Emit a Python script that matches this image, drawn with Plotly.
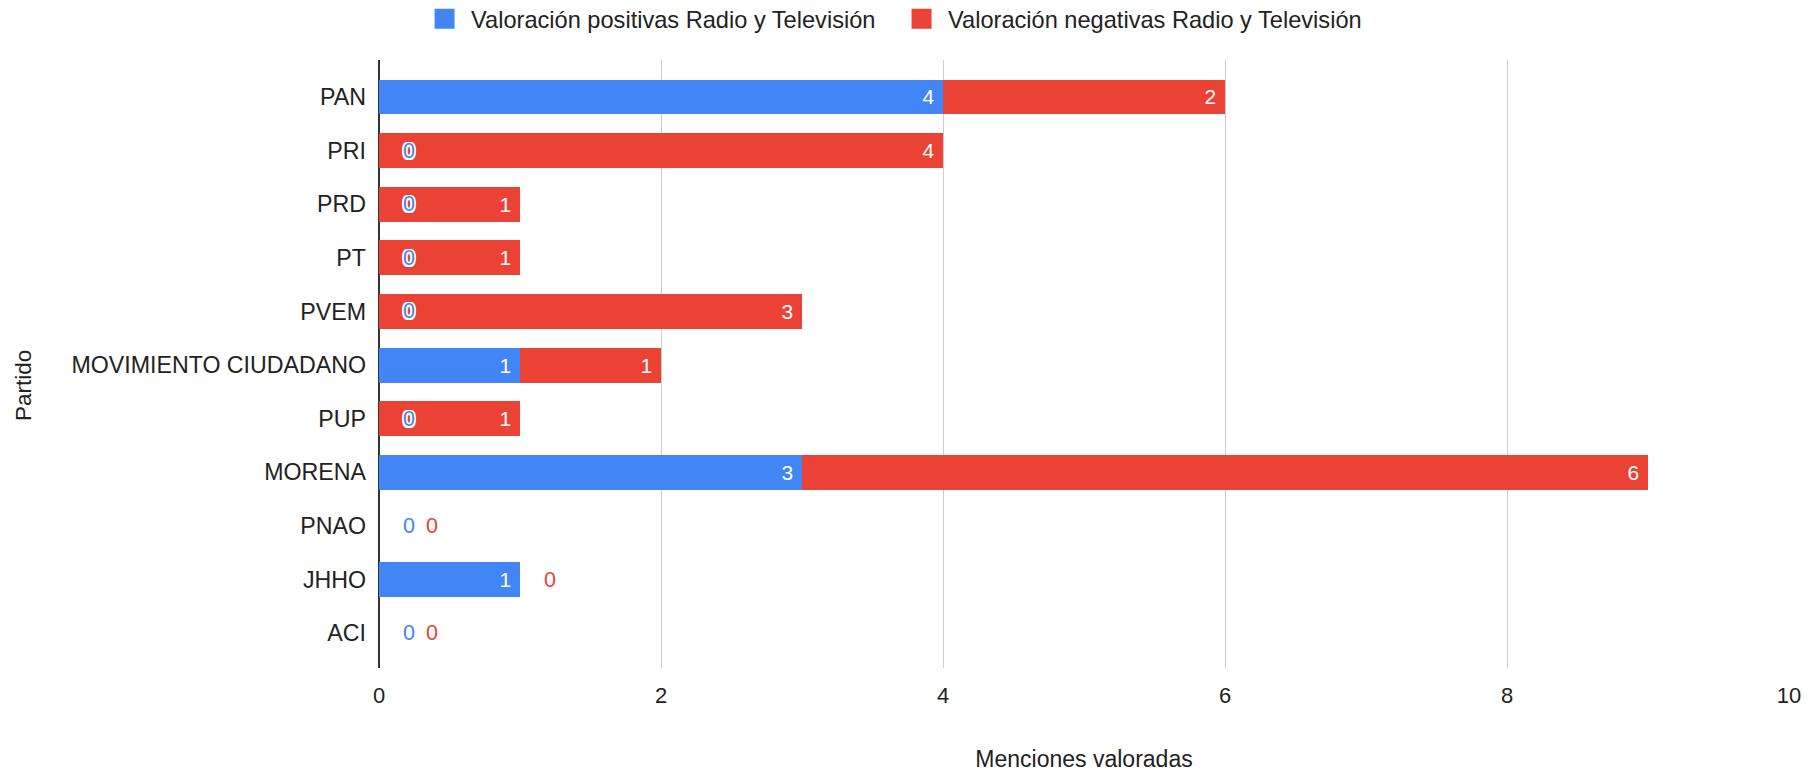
import plotly.graph_objects as go

partidos = ["PAN", "PRI", "PRD", "PT", "PVEM", "MOVIMIENTO CIUDADANO", "PUP",
            "MORENA", "PNAO", "JHHO", "ACI"]
positivas = [4, 0, 0, 0, 0, 1, 0, 3, 0, 1, 0]
negativas = [2, 4, 1, 1, 3, 1, 1, 6, 0, 0, 0]
x_ticks = [0, 2, 4, 6, 8, 10]

serie_pos = "Valoración positivas Radio y Televisión"
serie_neg = "Valoración negativas Radio y Televisión"
AZUL = "#4285F4"
ROJO = "#EA4335"
FONT = "Arial, Liberation Sans, sans-serif"
NBSP = "\u00a0"

# page body has an 8px margin; figure coordinates are offset by it
L, R, T, B = 371, 39, 52, 111
PLOT_W = 1820 - L - R
PLOT_H = 771 - T - B


def etiquetas(vals):
    return [f"{v}{NBSP}" if v else "" for v in vals]


fig = go.Figure()
for nombre, vals, color, radio in [(serie_pos, positivas, AZUL, 0), (serie_neg, negativas, ROJO, 3)]:
    fig.add_trace(go.Bar(
        y=partidos, x=vals, name=nombre, orientation="h", showlegend=False,
        marker=dict(color=color, line=dict(width=0), cornerradius=radio),
        text=etiquetas(vals), textposition="inside", insidetextanchor="end",
        textangle=0, constraintext="none", hoverinfo="x+y",
        insidetextfont=dict(color="white", size=21, family=FONT),
    ))
# legend entries (square swatches)
for nombre, color in [(serie_pos, AZUL), (serie_neg, ROJO)]:
    fig.add_trace(go.Scatter(
        x=[None], y=[None], name=nombre, mode="markers",
        marker=dict(symbol="square", size=23, color=color,
                    line=dict(color=color, width=4)),
        showlegend=True,
    ))

halo = ("1.5px 1.5px 0 white, -1.5px -1.5px 0 white, 1.5px -1.5px 0 white, "
        "-1.5px 1.5px 0 white, 0 1.5px 0 white, 0 -1.5px 0 white, "
        "1.5px 0 0 white, -1.5px 0 0 white")
annotations = []
for cat, p, n in zip(partidos, positivas, negativas):
    shift = 29.5
    if p == 0:
        annotations.append(dict(x=0, y=cat, xref="x", yref="y", text="0",
                                showarrow=False, xanchor="center", xshift=shift,
                                font=dict(color=AZUL, size=21.5, family=FONT, shadow=halo)))
        shift += 23
    if n == 0:
        annotations.append(dict(x=p, y=cat, xref="x", yref="y", text="0",
                                showarrow=False, xanchor="center", xshift=shift,
                                font=dict(color=ROJO, size=21.5, family=FONT, shadow=halo)))

annotations.append(dict(text="Partido", xref="paper", yref="paper",
                        x=(24 - 8 - L) / PLOT_W, y=(771 - B - (386 - 8)) / PLOT_H,
                        textangle=-90, showarrow=False, xanchor="center", yanchor="middle",
                        font=dict(size=22.5, color="#222222", family=FONT)))

fig.update_layout(
    barmode="stack",
    bargap=0.35,
    width=1820, height=771,
    margin=dict(l=L, r=R, t=T, b=B, autoexpand=False),
    plot_bgcolor="white", paper_bgcolor="white",
    font=dict(family=FONT, size=23, color="#222222"),
    showlegend=True,
    legend=dict(orientation="h", xref="paper", yref="container",
                x=0.366, xanchor="center", y=1 - 11 / 771, yanchor="middle",
                entrywidth=419, itemwidth=43,
                font=dict(size=23.6, color="#222222", family=FONT),
                itemclick=False, traceorder="normal"),
    annotations=annotations,
    xaxis=dict(
        range=[0, 10], tickvals=x_ticks, ticktext=[str(t) for t in x_ticks],
        showgrid=True, gridcolor="#cccccc", gridwidth=1,
        zeroline=True, zerolinecolor="#333333", zerolinewidth=2,
        showline=False, ticks="", ticklabelstandoff=12, automargin=False,
        tickfont=dict(size=22, color="#222222", family=FONT),
        title=dict(text="Menciones valoradas", standoff=43,
                   font=dict(size=23, color="#222222", family=FONT)),
        fixedrange=True,
    ),
    yaxis=dict(
        categoryorder="array", categoryarray=partidos,
        range=[10.65, -0.69], automargin=False,
        showgrid=False, zeroline=False, showline=False, ticks="",
        ticklabelstandoff=12,
        tickfont=dict(size=23.2, color="#222222", family=FONT),
        fixedrange=True,
    ),
)

fig.write_html("out.html")
